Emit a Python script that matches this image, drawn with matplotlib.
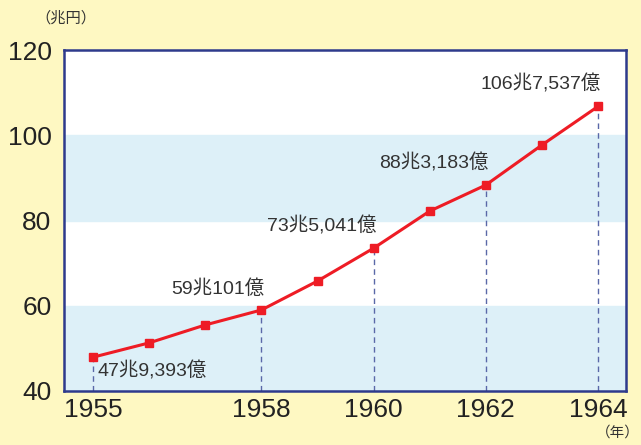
import matplotlib.pyplot as plt

plt.rcParams['font.family'] = ['Noto Sans CJK JP', 'DejaVu Sans']

# データ（兆円）
years = [1955, 1956, 1957, 1958, 1959, 1960, 1961, 1962, 1963, 1964]
gnp = [47.9393, 51.3, 55.5, 59.0101, 65.8, 73.5041, 82.2, 88.3183, 97.7, 106.7537]

label_years = [1955, 1958, 1960, 1962, 1964]
labels = ["47兆9,393億", "59兆101億", "73兆5,041億", "88兆3,183億", "106兆7,537億"]

xticks = [1955, 1958, 1960, 1962, 1964]
yticks = [40, 60, 80, 100, 120]

bg = '#FEF8C2'
navy = '#2E3A8C'
txt = '#222222'

fig = plt.figure(figsize=(6.41, 4.45), dpi=100, facecolor=bg)
ax = fig.add_axes([64 / 641, 1 - 391 / 445, 562 / 641, 341 / 445])
ax.set_facecolor('white')

# 背景の帯
ax.axhspan(40, 60, color='#DDF0F8', zorder=0)
ax.axhspan(80, 100, color='#DDF0F8', zorder=0)

# 破線
for y in label_years:
    v = gnp[years.index(y)]
    ax.plot([y, y], [40, v], ls=(0, (4, 3)), color='#5a68a8', lw=1, zorder=1)

ax.plot(years, gnp, color='#EE1C25', lw=2.2, marker='s', ms=6, zorder=3)

# ラベル
lab_font = ['Liberation Sans', 'Noto Sans CJK JP']
for y, s in zip(label_years, labels):
    v = gnp[years.index(y)]
    if y == 1955:
        ax.annotate(s, (y, v), xytext=(3, -10), textcoords='offset points',
                    ha='left', va='center', fontsize=14, color='#333333',
                    family=lab_font)
    else:
        ax.annotate(s, (y, v), xytext=(2, 9), textcoords='offset points',
                    ha='right', va='bottom', fontsize=14, color='#333333',
                    family=lab_font)

ax.set_xlim(1954.48, 1964.5)
ax.set_ylim(40, 120)
ax.set_xticks(xticks)
ax.set_yticks(yticks)
ax.tick_params(length=0, labelsize=19, colors=txt)
ax.tick_params(axis='x', pad=5)
ax.tick_params(axis='y', pad=9)
for lab in ax.get_xticklabels() + ax.get_yticklabels():
    lab.set_fontfamily(['Liberation Sans'])
for sp in ax.spines.values():
    sp.set_color(navy)
    sp.set_linewidth(1.8)

fig.text(35 / 641, 1 - 18 / 445, '（兆円）', fontsize=11, color='#333333', va='center', ha='left')
fig.text(640 / 641, 1 - 433 / 445, '（年）', fontsize=10.5, color='#333333', va='center', ha='right')

fig.savefig('out.png', dpi=100, facecolor=bg)
